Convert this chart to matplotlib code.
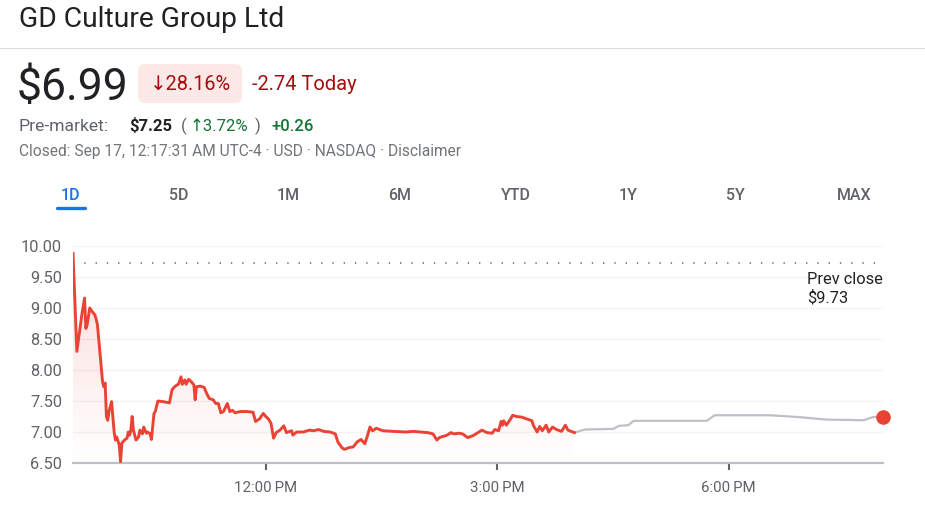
import matplotlib
matplotlib.use('Agg')
import matplotlib.pyplot as plt
import matplotlib.transforms as mtransforms
from matplotlib.patches import FancyBboxPatch, Polygon
from matplotlib.lines import Line2D
import numpy as np

plt.rcParams['font.family'] = ['Roboto', 'DejaVu Sans']

# regular session, minutes after midnight / price
regular_minutes = [570, 573, 577, 579, 580, 581, 583, 585, 587, 588, 589, 591, 593, 594, 595,
                   596, 597, 598, 600, 601, 602, 603, 604, 606, 607, 608, 610, 612, 613, 614,
                   615, 616, 617, 619, 621, 622, 624, 625, 627, 628, 630, 631, 633, 634, 636,
                   640, 645, 647, 649, 651, 652, 654, 655, 657, 658, 660, 662, 664, 665, 666,
                   669, 672, 674, 676, 679, 681, 683, 685, 687, 690, 692, 694, 696, 700, 705,
                   710, 712, 715, 718, 720, 722, 724, 726, 728, 731, 734, 736, 740, 741, 744,
                   749, 754, 757, 761, 765, 770, 774, 776, 779, 781, 785, 788, 791, 794, 797,
                   799, 801, 803, 806, 811, 819, 829, 835, 840, 846, 850, 853, 855, 861, 864,
                   866, 870, 873, 877, 881, 885, 888, 892, 896, 898, 901, 903, 904, 905, 907,
                   910, 912, 915, 919, 923, 927, 928, 931, 933, 935, 938, 940, 943, 946, 950,
                   953, 955, 960]
regular_prices = [9.88, 8.30, 8.91, 9.16, 8.67, 8.73, 9.00, 8.94, 8.89, 8.82, 8.73, 8.27, 7.81, 7.73, 7.79,
                  7.25, 7.19, 7.33, 7.49, 7.25, 7.00, 6.87, 6.92, 6.79, 6.52, 6.82, 6.87, 6.90, 7.00, 6.95,
                  7.03, 7.25, 7.03, 6.87, 6.92, 7.03, 6.97, 7.08, 6.98, 7.00, 6.97, 6.88, 7.30, 7.33, 7.50,
                  7.49, 7.47, 7.68, 7.73, 7.76, 7.77, 7.89, 7.77, 7.84, 7.77, 7.85, 7.81, 7.76, 7.52, 7.73,
                  7.74, 7.72, 7.62, 7.54, 7.52, 7.46, 7.46, 7.31, 7.33, 7.46, 7.33, 7.35, 7.31, 7.33, 7.33,
                  7.32, 7.17, 7.21, 7.30, 7.25, 7.21, 7.14, 6.90, 6.99, 7.03, 7.10, 6.99, 7.02, 6.95, 7.00,
                  7.00, 7.03, 7.02, 7.04, 7.01, 7.00, 6.97, 6.84, 6.75, 6.72, 6.75, 6.76, 6.84, 6.88, 6.81,
                  6.94, 7.08, 7.02, 7.06, 7.02, 7.01, 7.00, 7.01, 7.00, 6.99, 6.97, 6.87, 6.91, 6.95, 6.99,
                  6.97, 6.98, 6.97, 6.91, 6.94, 6.99, 7.03, 6.99, 6.98, 7.04, 7.02, 7.17, 7.11, 7.18, 7.11,
                  7.20, 7.27, 7.25, 7.24, 7.21, 7.18, 7.11, 7.00, 7.09, 7.02, 7.11, 7.00, 7.08, 7.04, 7.01,
                  7.11, 7.03, 6.99]

# after hours
after_minutes = [960, 968, 990, 995, 1002, 1006, 1063, 1069, 1091, 1112, 1135, 1156, 1185, 1192, 1200]
after_prices = [6.99, 7.04, 7.05, 7.10, 7.11, 7.18, 7.18, 7.27, 7.27, 7.27, 7.24, 7.20, 7.19, 7.24, 7.25]

prev_close = 9.73
y_ticks = [6.5, 7.0, 7.5, 8.0, 8.5, 9.0, 9.5, 10.0]
x_ticks = [720, 900, 1080]
x_tick_labels = ['12:00\u202fPM', '3:00\u202fPM', '6:00\u202fPM']
tab_labels = ['1D', '5D', '1M', '6M', 'YTD', '1Y', '5Y', 'MAX']
tab_centers = [71, 179, 288, 400, 516, 628, 735, 854]

RED = '#ea4335'
W, H = 925, 505

fig = plt.figure(figsize=(W / 100, H / 100), dpi=100)
# pixel coords measured from the top-left corner
px = mtransforms.Affine2D().scale(1 / W, -1 / H).translate(0, 1) + fig.transFigure

# header
fig.text(19, 27, 'GD Culture Group Ltd', transform=px, fontsize=20.3, color='#202124', va='baseline')
fig.add_artist(Line2D([0, W], [48, 48], transform=px, color='#dadce0', lw=0.8))
fig.text(17, 100, '$6.99', transform=px, fontsize=32, color='#202124', va='baseline', parse_math=False)
fig.add_artist(FancyBboxPatch((138, 64), 104, 39, transform=px, boxstyle='round,pad=0,rounding_size=7',
                              facecolor='#fce8e6', edgecolor='none'))
fig.text(150, 90, '\u219328.16%', transform=px, fontsize=14.3, color='#a50e0e', va='baseline')
fig.text(252, 90, '-2.74 Today', transform=px, fontsize=14.5, color='#a50e0e', va='baseline')
fig.text(19, 131, 'Pre-market:', transform=px, fontsize=12.6, color='#5f6368', va='baseline')
fig.text(129, 131, '$7.25', transform=px, fontsize=12, color='#202124', va='baseline', fontweight='bold',
         parse_math=False)
fig.text(181, 131, '(', transform=px, fontsize=12, color='#5f6368', va='baseline')
fig.text(190, 131, '\u21913.72%', transform=px, fontsize=12, color='#137333', va='baseline')
fig.text(255, 131, ')', transform=px, fontsize=12, color='#5f6368', va='baseline')
fig.text(272, 131, '+0.26', transform=px, fontsize=12, color='#137333', va='baseline', fontweight='medium')
fig.text(19, 156, 'Closed: Sep 17, 12:17:31\u202fAM UTC-4 \u00b7 USD \u00b7 NASDAQ \u00b7 Disclaimer',
         transform=px, fontsize=11.2, color='#70757a', va='baseline')

# range tabs
for label, cx in zip(tab_labels, tab_centers):
    color = '#1a73e8' if label == '1D' else '#5f6368'
    fig.text(cx, 200, label, transform=px, fontsize=11.5, color=color, va='baseline', ha='center',
             fontweight='medium')
fig.add_artist(Line2D([57, 85], [208, 208], transform=px, color='#1a73e8', lw=2.4,
                      solid_capstyle='round'))

# chart
ax = fig.add_axes([73 / W, (H - 463) / H, 810 / W, 217 / H])

for y in y_ticks[1:]:
    ax.axhline(y, color='#f1f3f4', lw=1, zorder=0)

ax.plot([570, 1200], [prev_close, prev_close], color='#80868b', lw=1.4, dashes=(0.7, 5.1), zorder=2)

# gradient fill under the session line
verts = list(zip(regular_minutes, regular_prices)) + [(regular_minutes[-1], 6.5), (regular_minutes[0], 6.5)]
clip = Polygon(verts, closed=True, facecolor='none', edgecolor='none')
ax.add_patch(clip)
grad = np.zeros((256, 1, 4))
grad[..., 0], grad[..., 1], grad[..., 2] = 234 / 255, 67 / 255, 53 / 255
grad[:, 0, 3] = np.linspace(0.0, 0.2, 256)
im = ax.imshow(grad, extent=[570, 960, 6.5, 10.0], origin='lower', aspect='auto', zorder=1)
im.set_clip_path(clip)

ax.plot(after_minutes, after_prices, color='#bdc1c6', lw=1.6, zorder=3, solid_capstyle='round')
ax.plot(regular_minutes, regular_prices, color=RED, lw=2.1, zorder=4, solid_joinstyle='round')
ax.plot(after_minutes[-1], after_prices[-1], 'o', color=RED, markersize=9.5, zorder=5, clip_on=False)

ax.text(1141, 9.58, 'Prev close\n$9.73', fontsize=11.8, color='#202124', va='top', ha='left',
        linespacing=1.2, parse_math=False)

ax.set_xlim(570, 1200)
ax.set_ylim(6.5, 10.0)
ax.set_yticks(y_ticks)
ax.set_yticklabels(['%.2f' % v for v in y_ticks])
ax.set_xticks(x_ticks)
ax.set_xticklabels(x_tick_labels)
ax.tick_params(axis='y', length=0, pad=8, labelsize=11.8, labelcolor='#5f6368')
ax.tick_params(axis='x', length=5, width=1.5, color='#5f6368', pad=8, labelsize=10.8, labelcolor='#5f6368')

for side in ['top', 'right', 'left']:
    ax.spines[side].set_visible(False)
ax.spines['bottom'].set_color('#bdc1c6')
ax.spines['bottom'].set_linewidth(1.6)
ax.set_facecolor('none')

plt.savefig('out.png', dpi=100)
